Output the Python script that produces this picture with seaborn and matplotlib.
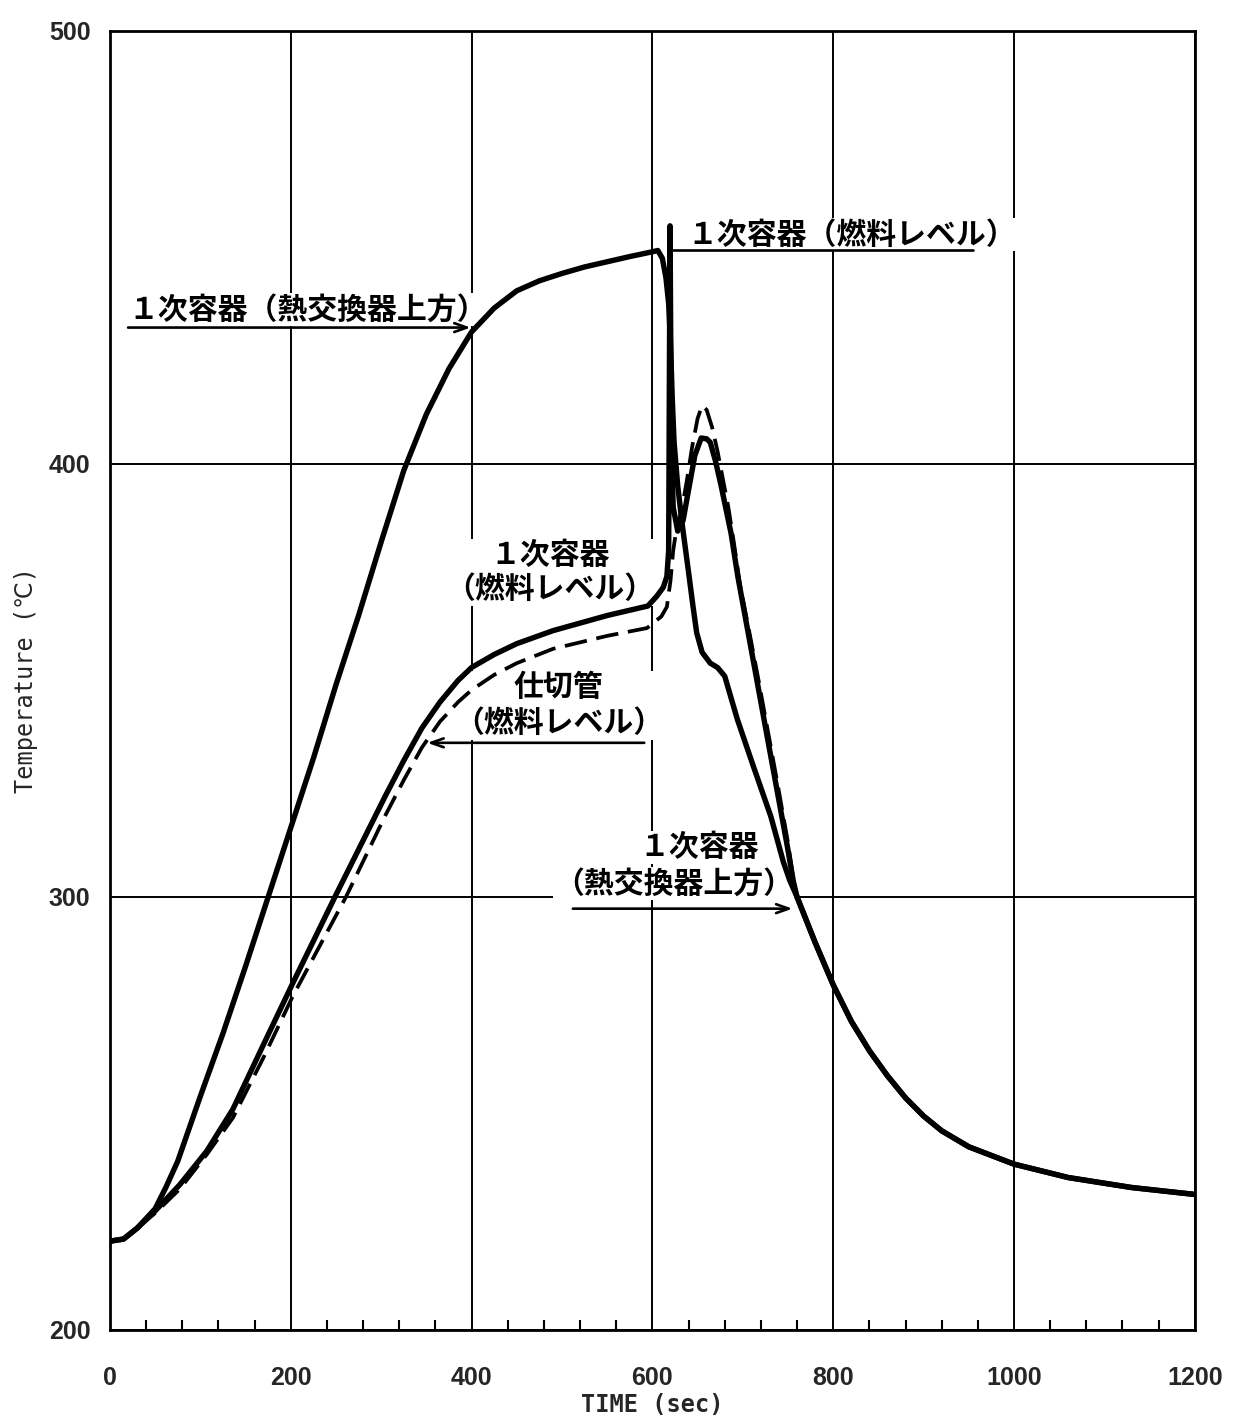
import numpy as np
import pandas as pd
import matplotlib
matplotlib.use("Agg")
import matplotlib.pyplot as plt
import seaborn as sns
from matplotlib.ticker import MultipleLocator

# ---- data (time in sec, temperature in degC) ----
# Primary vessel, above the heat exchanger (upper solid curve)
hx_time = [0, 15, 30, 50, 62, 75, 100, 125, 150, 175, 200, 225, 250, 275, 300, 325,
           350, 375, 400, 425, 450, 475, 500, 525, 550, 575, 600, 606, 611, 615,
           618, 620, 622, 624, 628, 633, 640, 645, 649, 655, 664, 672, 680, 694,
           712, 731, 745, 752]
hx_temp = [220.5, 221, 223.5, 228, 233, 239, 254, 268.5, 284, 300, 316, 332, 349,
           365, 382, 398.5, 411.5, 422, 430.5, 436, 440, 442.3, 444, 445.5, 446.7,
           447.9, 449, 449.3, 447.5, 443, 437, 428, 415, 405, 395, 386, 375, 367,
           361, 356.5, 354, 353, 351, 341, 330, 318.6, 308, 303.8]

# Primary vessel, fuel level (lower solid curve)
fuel_time = [0, 15, 30, 50, 77, 107, 136, 170, 202, 250, 305, 325, 345, 365, 385,
             400, 425, 450, 490, 550, 595, 605, 612, 616, 618, 619.5, 621, 623,
             628, 634, 640, 647, 654, 660, 664, 670, 676, 682, 687, 694.5, 705.5,
             716.5, 727, 738, 749, 756]
fuel_temp = [220.5, 221, 223.5, 227.5, 233.5, 241.3, 251, 266, 280, 300.5, 323.5,
             331.5, 339, 345, 350, 353, 356, 358.5, 361.5, 365, 367.2, 369.5,
             371.5, 374, 380, 455, 405, 390, 384.5, 387, 394, 402, 406, 405.8, 405,
             400.5, 395, 389, 384, 374, 361.5, 349, 337, 324.5, 312, 303.5]

# Partition tube, fuel level (dashed curve)
tube_time = [0, 15, 30, 50, 77, 107, 136, 170, 202, 261, 305, 325, 345, 365, 385,
             400, 425, 450, 490, 550, 594, 610, 616, 620, 623, 627, 632, 638, 644,
             650, 655, 660, 666, 672, 678, 684, 690, 697, 706, 717, 728, 739, 750,
             756]
tube_temp = [220.5, 221, 223.5, 227, 232.5, 240.5, 249, 263, 277, 300, 319, 327,
             334.5, 340.5, 345, 347.8, 351.3, 354, 357.3, 360.3, 362.1, 364.8, 367,
             373, 380, 385.5, 389, 396, 404, 410.5, 413.5, 412.5, 408.5, 403,
             396.5, 390, 382, 372, 362.5, 350.5, 338, 325.5, 312.5, 304]

# Cooldown tail shared by all three curves once they merge
tail_time = [760, 780, 800, 820, 840, 860, 880, 900, 920, 950, 1000, 1060, 1130, 1200]
tail_temp = [300, 289.5, 279.7, 271.3, 264.5, 258.7, 253.6, 249.4, 246, 242.3,
             238.3, 235.2, 232.9, 231.3]

x_ticks = [0, 200, 400, 600, 800, 1000, 1200]
y_ticks = [200, 300, 400, 500]

label_hx_top = "１次容器（熱交換器上方）"
label_fuel_top = "１次容器（燃料レベル）"
label_fuel_mid = "１次容器\n（燃料レベル）"
label_tube = "仕切管\n（燃料レベル）"
label_hx_low_1 = "１次容器"
label_hx_low_2 = "（熱交換器上方）"

# ---- frame ----
series = {
    "hx": (hx_time + tail_time, hx_temp + tail_temp),
    "fuel": (fuel_time + tail_time, fuel_temp + tail_temp),
    "tube": (tube_time + tail_time, tube_temp + tail_temp),
}
frames = []
for name, (t, v) in series.items():
    frames.append(pd.DataFrame({"time": t, "temp": v, "series": name}))
df = pd.concat(frames, ignore_index=True)

sns.set_style("white")
cjk = ["Noto Sans CJK JP", "DejaVu Sans"]
plt.rcParams["font.family"] = ["Liberation Sans", "Noto Sans CJK JP", "DejaVu Sans"]
plt.rcParams["lines.solid_joinstyle"] = "round"
plt.rcParams["lines.solid_capstyle"] = "round"

fig = plt.figure(figsize=(12.37, 14.20), dpi=100)
ax = fig.add_axes([0.0889, 0.0634, 0.877, 0.9148])

ink = "black"
sns.lineplot(data=df[df.series == "hx"], x="time", y="temp", ax=ax,
             estimator=None, color=ink, lw=3.9, zorder=4)
sns.lineplot(data=df[df.series == "fuel"], x="time", y="temp", ax=ax,
             estimator=None, color=ink, lw=3.9, zorder=4)
sns.lineplot(data=df[df.series == "tube"], x="time", y="temp", ax=ax,
             estimator=None, color=ink, lw=2.7, zorder=4,
             linestyle=(0, (6, 2.6)))

ax.set_xlim(0, 1200)
ax.set_ylim(200, 500)
ax.set_xticks(x_ticks)
ax.set_yticks(y_ticks)
ax.xaxis.set_minor_locator(MultipleLocator(40))
ax.grid(True, which="major", color=ink, lw=1.4)
ax.set_axisbelow(True)
for s in ax.spines.values():
    s.set_visible(True)
    s.set_color(ink)
    s.set_linewidth(2.0)

ax.tick_params(which="major", length=0, labelsize=18)
ax.tick_params(axis="x", which="major", pad=26)
ax.tick_params(axis="y", which="major", pad=14)
ax.tick_params(axis="x", which="minor", bottom=True, top=False, direction="in",
               length=7, width=1.5, color=ink)
for lab in ax.get_xticklabels() + ax.get_yticklabels():
    lab.set_fontweight("bold")
    lab.set_family(["Liberation Sans", "DejaVu Sans"])

ax.set_xlabel("TIME (sec)", fontsize=17, fontweight="bold",
              family=["DejaVu Sans Mono", "DejaVu Sans"], labelpad=2)
ax.set_ylabel("Temperature (℃)", fontsize=17,
              family=["DejaVu Sans Mono", "DejaVu Sans", "Noto Sans CJK JP"],
              labelpad=8)

# ---- annotations ----
box = dict(facecolor="white", edgecolor="none", pad=1.0)
arrow = dict(arrowstyle="->,head_length=0.9,head_width=0.32", lw=1.9,
             color=ink, shrinkA=0, shrinkB=0)
tkw = dict(fontsize=21.5, family=cjk, fontweight="bold", color=ink, bbox=box,
           zorder=2)

ax.text(20, 435.6, label_hx_top, ha="left", va="center", **tkw)
ax.annotate("", xy=(399, 431.5), xytext=(20, 431.5), arrowprops=arrow, zorder=3)

ax.text(639, 453.0, label_fuel_top, ha="left", va="center", **tkw)
ax.plot([621, 955], [449.5, 449.5], color=ink, lw=1.9, zorder=3)

ax.text(487, 375, label_fuel_mid, ha="center", va="center",
        multialignment="center", linespacing=1.17, **tkw)

ax.text(496, 344.3, label_tube, ha="center", va="center",
        multialignment="center", linespacing=1.24, **tkw)
ax.annotate("", xy=(351, 335.6), xytext=(591, 335.6), arrowprops=arrow, zorder=3)

ax.text(651.6, 311.5, label_hx_low_1, ha="center", va="center", **tkw)
ax.text(624, 303, label_hx_low_2, ha="center", va="center", **tkw)
ax.annotate("", xy=(755, 297.3), xytext=(512, 297.3), arrowprops=arrow, zorder=3)

fig.savefig("out.png", dpi=100, facecolor="white")
